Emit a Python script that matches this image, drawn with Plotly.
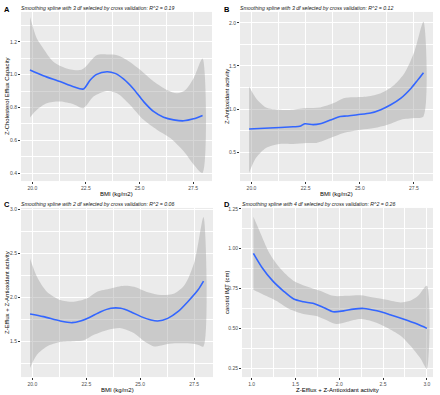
import plotly.graph_objects as go

# ---------------- data ----------------
# Panel A: BMI vs Z-Cholesterol Efflux Capacity
a_fit_x = [19.89, 20.51, 21.29, 21.92, 22.38, 22.70, 23.0, 23.48, 23.86, 24.25, 24.72, 25.19, 25.65, 26.12, 26.59, 27.06, 27.52, 27.94]
a_fit_y = [1.028, 0.994, 0.958, 0.927, 0.913, 0.968, 1.002, 1.018, 1.008, 0.974, 0.913, 0.836, 0.776, 0.741, 0.725, 0.719, 0.731, 0.752]
a_hi_x = [19.89, 20.21, 20.51, 20.98, 21.6, 22.23, 22.46, 23.0, 23.48, 23.95, 24.41, 25.04, 25.66, 26.28, 26.75, 27.14, 27.52, 27.94]
a_hi_y = [1.352, 1.22, 1.16, 1.079, 1.038, 1.028, 1.046, 1.119, 1.123, 1.119, 1.089, 1.028, 0.958, 0.907, 0.887, 0.907, 0.978, 1.099]
a_lo_x = [19.89, 20.21, 20.67, 21.29, 21.92, 22.38, 22.85, 23.48, 23.95, 24.56, 25.19, 25.81, 26.43, 27.06, 27.52, 27.94]
a_lo_y = [0.739, 0.786, 0.826, 0.836, 0.82, 0.796, 0.867, 0.901, 0.887, 0.816, 0.725, 0.665, 0.614, 0.533, 0.453, 0.402]

# Panel B: BMI vs Z-Antioxidant activity
b_fit_x = [19.89, 20.83, 21.92, 22.23, 22.46, 22.85, 23.17, 23.64, 24.1, 24.4, 24.88, 25.5, 25.97, 26.43, 26.9, 27.37, 27.68, 27.94]
b_fit_y = [0.769, 0.781, 0.795, 0.80, 0.83, 0.82, 0.83, 0.873, 0.915, 0.92, 0.935, 0.954, 0.993, 1.05, 1.127, 1.242, 1.339, 1.423]
b_hi_x = [19.89, 20.21, 20.67, 21.29, 21.92, 22.54, 23.17, 23.8, 24.25, 24.72, 25.35, 25.97, 26.59, 27.06, 27.52, 27.94]
b_hi_y = [1.262, 1.127, 1.02, 0.993, 0.993, 1.012, 1.02, 1.07, 1.127, 1.137, 1.146, 1.185, 1.281, 1.415, 1.665, 2.012]
b_lo_x = [19.89, 20.21, 20.67, 21.29, 21.92, 22.54, 23.0, 23.64, 24.25, 25.04, 25.66, 26.28, 26.9, 27.52, 27.94]
b_lo_y = [0.262, 0.435, 0.55, 0.596, 0.596, 0.608, 0.608, 0.665, 0.723, 0.761, 0.781, 0.819, 0.877, 0.896, 0.915]

# Panel C: BMI vs Z-Efflux + Z-Antioxidant activity
c_fit_x = [19.89, 20.51, 21.29, 21.84, 22.23, 22.62, 23.17, 23.64, 24.1, 24.56, 25.04, 25.5, 25.81, 26.28, 26.75, 27.21, 27.68, 27.94]
c_fit_y = [1.81, 1.78, 1.73, 1.711, 1.73, 1.768, 1.836, 1.875, 1.875, 1.836, 1.78, 1.742, 1.73, 1.76, 1.836, 1.95, 2.083, 2.185]
c_hi_x = [19.89, 20.21, 20.67, 21.29, 21.92, 22.54, 23.0, 23.64, 24.25, 24.72, 25.35, 25.97, 26.59, 27.06, 27.52, 27.94]
c_hi_y = [2.443, 2.234, 2.064, 1.97, 1.95, 1.989, 2.064, 2.102, 2.132, 2.12, 2.057, 2.026, 2.045, 2.14, 2.405, 2.916]
c_lo_x = [19.89, 20.21, 20.67, 21.29, 21.92, 22.38, 22.85, 23.48, 24.1, 24.72, 25.19, 25.66, 26.12, 26.59, 27.21, 27.68, 27.94]
c_lo_y = [1.193, 1.344, 1.439, 1.489, 1.5, 1.51, 1.572, 1.628, 1.648, 1.59, 1.5, 1.44, 1.46, 1.475, 1.475, 1.46, 1.44]

# Panel D: Z-Efflux + Z-Antioxidant activity vs carotid IMT
d_fit_x = [1.02, 1.12, 1.24, 1.36, 1.48, 1.59, 1.70, 1.82, 1.93, 2.05, 2.16, 2.28, 2.43, 2.58, 2.73, 2.89, 3.0]
d_fit_y = [0.971, 0.881, 0.798, 0.736, 0.684, 0.667, 0.657, 0.631, 0.604, 0.61, 0.621, 0.625, 0.61, 0.586, 0.559, 0.527, 0.5]
d_hi_x = [1.02, 1.09, 1.20, 1.32, 1.48, 1.63, 1.78, 1.93, 2.09, 2.24, 2.39, 2.54, 2.70, 2.81, 2.90, 3.0]
d_hi_y = [1.2, 1.111, 0.975, 0.881, 0.798, 0.763, 0.736, 0.704, 0.704, 0.708, 0.694, 0.68, 0.663, 0.673, 0.704, 0.767]
d_lo_x = [1.02, 1.12, 1.28, 1.43, 1.59, 1.74, 1.89, 1.97, 2.09, 2.24, 2.39, 2.54, 2.70, 2.81, 2.93, 3.0]
d_lo_y = [0.742, 0.715, 0.673, 0.621, 0.59, 0.577, 0.542, 0.527, 0.542, 0.559, 0.542, 0.506, 0.454, 0.392, 0.309, 0.246]

panel_letters = ["A", "B", "C", "D"]
subtitles = [
    "Smoothing spline with 3 df selected by cross validation: R^2 = 0.19",
    "Smoothing spline with 3 df selected by cross validation: R^2 = 0.12",
    "Smoothing spline with 2 df selected by cross validation: R^2 = 0.06",
    "Smoothing spline with 4 df selected by cross validation: R^2 = 0.26",
]
x_titles = ["BMI (kg/m2)", "BMI (kg/m2)", "BMI (kg/m2)", "Z-Efflux + Z-Antioxidant activity"]
y_titles = ["Z-Cholesterol Efflux Capacity", "Z-Antioxidant activity",
            "Z-Efflux + Z-Antioxidant activity", "carotid IMT (cm)"]

# ---------------- figure ----------------
W, H = 440, 395
FONT = "Liberation Sans, Arial, sans-serif"
BAND = "rgba(153,153,153,0.4)"
LINE = "#3366FF"

panels = [
    (a_fit_x, a_fit_y, a_hi_x, a_hi_y, a_lo_x, a_lo_y),
    (b_fit_x, b_fit_y, b_hi_x, b_hi_y, b_lo_x, b_lo_y),
    (c_fit_x, c_fit_y, c_hi_x, c_hi_y, c_lo_x, c_lo_y),
    (d_fit_x, d_fit_y, d_hi_x, d_hi_y, d_lo_x, d_lo_y),
]

# pixel boxes: (left, right, top, bottom)
boxes = [(21, 212, 10, 180), (240, 433, 10, 180), (21, 213, 207, 377), (242, 433, 207, 377)]
x_ranges = [[19.47, 28.38], [19.47, 28.38], [19.47, 28.38], [0.89, 3.07]]
y_ranges = [[0.352, 1.382], [0.165, 2.127], [1.09, 3.02], [0.194, 1.256]]
x_ticks = [(20, 2.5), (20, 2.5), (20, 2.5), (1.0, 0.5)]
y_ticks = [(0.4, 0.2), (0.5, 0.5), (1.5, 0.5), (0.25, 0.25)]
x_fmt = [".1f", ".1f", ".1f", ".1f"]
y_fmt = [".1f", ".1f", ".1f", ".2f"]

fig = go.Figure()
annotations = []
layout = dict(width=W, height=H, margin=dict(l=0, r=0, t=0, b=0),
              paper_bgcolor="white", plot_bgcolor="#EBEBEB", showlegend=False,
              font=dict(family=FONT))

for i, (fx, fy, hx, hy, lx, ly) in enumerate(panels):
    k = "" if i == 0 else str(i + 1)
    xa, ya = "x" + k, "y" + k
    poly_x = list(hx) + list(reversed(lx))
    poly_y = list(hy) + list(reversed(ly))
    fig.add_trace(go.Scatter(x=poly_x, y=poly_y, fill="toself", fillcolor=BAND,
                             mode="lines", line=dict(width=0, shape="spline", smoothing=0.8),
                             hoverinfo="skip", xaxis=xa, yaxis=ya))
    fig.add_trace(go.Scatter(x=fx, y=fy, mode="lines",
                             line=dict(color=LINE, width=1.6, shape="spline", smoothing=0.8),
                             xaxis=xa, yaxis=ya))
    l, r, t, b = boxes[i]
    common = dict(showgrid=True, gridcolor="white", gridwidth=0.8, zeroline=False,
                  showline=False, ticks="outside", ticklen=2, tickwidth=0.6,
                  tickcolor="#333333", tickfont=dict(size=5, color="#4D4D4D", family=FONT))
    xt0, xdt = x_ticks[i]
    yt0, ydt = y_ticks[i]
    layout["xaxis" + k] = dict(common, domain=[l / W, r / W], range=x_ranges[i],
                               anchor=ya, tick0=xt0, dtick=xdt, tickformat=x_fmt[i],
                               minor=dict(showgrid=True, gridcolor="white", gridwidth=0.4,
                                          tick0=xt0 - xdt / 2, dtick=xdt))
    layout["yaxis" + k] = dict(common, domain=[1 - b / H, 1 - t / H], range=y_ranges[i],
                               anchor=xa, tick0=yt0, dtick=ydt, tickformat=y_fmt[i],
                               minor=dict(showgrid=True, gridcolor="white", gridwidth=0.4,
                                          tick0=yt0 - ydt / 2, dtick=ydt))
    col0 = 0 if i % 2 == 0 else 220
    row0 = 0 if i < 2 else 196
    annotations.append(dict(text="<b>%s</b>" % panel_letters[i], x=(col0 + 2) / W, y=1 - (row0 + 1) / H,
                            xref="paper", yref="paper", xanchor="left", yanchor="top",
                            showarrow=False, font=dict(size=7.5, color="black", family=FONT)))
    annotations.append(dict(text="<i>%s</i>" % subtitles[i], x=(l - 2) / W, y=1 - (row0 + 1.5) / H,
                            xref="paper", yref="paper", xanchor="left", yanchor="top",
                            showarrow=False, font=dict(size=5.2, color="#1A1A1A", family=FONT)))
    annotations.append(dict(text=x_titles[i], x=((l + r) / 2) / W, y=1 - (b + 8) / H,
                            xref="paper", yref="paper", xanchor="center", yanchor="top",
                            showarrow=False, font=dict(size=6, color="black", family=FONT)))
    annotations.append(dict(text=y_titles[i], x=(col0 + 1.5) / W, y=1 - ((t + b) / 2) / H,
                            xref="paper", yref="paper", xanchor="left", yanchor="middle",
                            textangle=-90, showarrow=False,
                            font=dict(size=6, color="black", family=FONT)))

layout["annotations"] = annotations
fig.update_layout(**layout)
fig.write_html("out.html", config={"displayModeBar": False},
               post_script="document.body.style.margin='0px';document.body.style.padding='0px';")
